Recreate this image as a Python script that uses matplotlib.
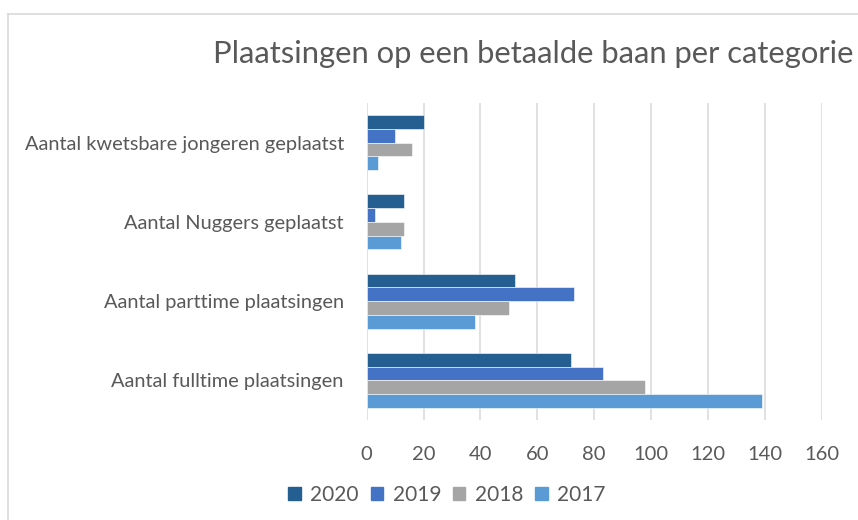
import matplotlib
matplotlib.use("Agg")
import matplotlib.pyplot as plt
from matplotlib.patches import Rectangle
import numpy as np

plt.rcParams['font.family'] = ['Lato', 'DejaVu Sans']

categories = [
    "Aantal kwetsbare jongeren geplaatst",
    "Aantal Nuggers geplaatst",
    "Aantal parttime plaatsingen",
    "Aantal fulltime plaatsingen",
]
years = ["2020", "2019", "2018", "2017"]
values_2020 = [20, 13, 52, 72]
values_2019 = [10, 3, 73, 83]
values_2018 = [16, 13, 50, 98]
values_2017 = [4, 12, 38, 139]
series = [values_2020, values_2019, values_2018, values_2017]
colors = ["#255E91", "#4472C4", "#A5A5A5", "#5B9BD5"]
xticks = [0, 20, 40, 60, 80, 100, 120, 140, 160]

text_color = "#595959"
grid_color = "#D9D9D9"

fig = plt.figure(figsize=(8.58, 5.2), dpi=100)
fig.patch.set_facecolor("white")

# light chart-area frame along top and left
fig.add_artist(plt.Line2D([8 / 858, 8 / 858], [0, 1 - 14 / 520], color=grid_color, lw=1.2))
fig.add_artist(plt.Line2D([8 / 858, 1], [1 - 14 / 520, 1 - 14 / 520], color=grid_color, lw=1.2))

ax = fig.add_axes([366.7 / 858, 1 - 420 / 520, (821.7 - 366.7) / 858, (420 - 103) / 520])

y = np.arange(len(categories))
h = 0.173
for j, (vals, col, yr) in enumerate(zip(series, colors, years)):
    ax.barh(y + (j - 1.5) * h, vals, height=h, color=col, label=yr,
            edgecolor="white", linewidth=0.4, zorder=3)

ax.set_ylim(3.5, -0.5)
ax.set_xlim(0, 160)
ax.set_xticks(xticks)
ax.set_xticklabels([str(t) for t in xticks])
ax.set_yticks(y)
ax.set_yticklabels(categories)
ax.tick_params(axis="both", length=0, labelcolor=text_color)
ax.tick_params(axis="x", pad=19, labelsize=14.5)
ax.tick_params(axis="y", pad=16.5, labelsize=14.4)
ax.grid(axis="x", color=grid_color, lw=1.1, zorder=0)
for s in ax.spines.values():
    s.set_visible(False)

fig.text(213 / 858, 1 - 54 / 520, "Plaatsingen op een betaalde baan per categorie",
         fontsize=22.3, color=text_color, ha="left", va="center")

handles = [Rectangle((0, 0), 1, 1, color=c) for c in colors]
fig.legend(handles, years, loc="center", bbox_to_anchor=(447 / 858, 1 - 495 / 520),
           ncol=4, frameon=False, fontsize=15, labelcolor=text_color,
           handlelength=0.6, handleheight=0.6, handletextpad=0.45, columnspacing=0.57)

fig.savefig("out.png", dpi=100, facecolor="white")
